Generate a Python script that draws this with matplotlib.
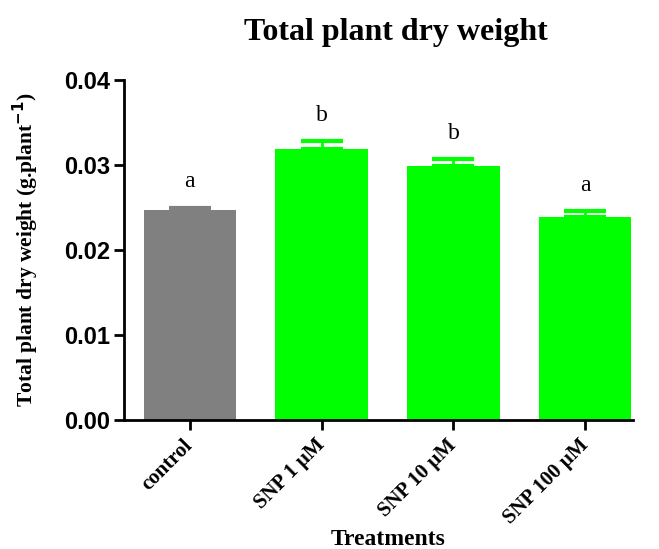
import matplotlib
matplotlib.use('Agg')
import matplotlib.pyplot as plt

# data
treatments = ['control', 'SNP 1 \u03bcM', 'SNP 10 \u03bcM', 'SNP 100 \u03bcM']
means = [0.0247, 0.0319, 0.0299, 0.0239]
errors = [0.0003, 0.0009, 0.0008, 0.0007]
letters = ['a', 'b', 'b', 'a']
colors = ['#808080', '#00ff00', '#00ff00', '#00ff00']

serif = 'Liberation Serif'
sans = 'Liberation Sans'

fig = plt.figure(figsize=(6.59, 5.49), dpi=100)
ax = fig.add_axes([0.188, 0.235, 0.772, 0.619])

x = range(len(treatments))
ax.bar(x, means, width=0.7, color=colors, zorder=2)
for i in x:
    ax.errorbar(i, means[i], yerr=[[0], [errors[i]]], fmt='none',
                ecolor=colors[i], elinewidth=2, capsize=15, capthick=3, zorder=1)
    ax.text(i, means[i] + errors[i] + 0.0018, letters[i], ha='center', va='bottom',
            family=serif, fontsize=17)

ax.set_xlim(-0.5, 3.36)
ax.set_ylim(0, 0.04)
ax.set_yticks([0.00, 0.01, 0.02, 0.03, 0.04])
ax.set_yticklabels(['0.00', '0.01', '0.02', '0.03', '0.04'], family=sans,
                   fontweight='bold', fontsize=17)
ax.set_xticks(list(x))
# centre-anchored + extra pad puts the label ends right under the ticks
ax.set_xticklabels(treatments, rotation=45, ha='right', va='center',
                   rotation_mode='anchor', family=serif, fontweight='bold', fontsize=15)

for s in ['top', 'right']:
    ax.spines[s].set_visible(False)
for s in ['left', 'bottom']:
    ax.spines[s].set_linewidth(2)
ax.tick_params(width=2, length=7, direction='out')
ax.tick_params(axis='y', pad=3)
ax.tick_params(axis='x', pad=9)

ax.set_ylabel('Total plant dry weight (g.plant$^{\\mathbf{-1}}$)', family=serif,
              fontweight='bold', fontsize=15.5)
ax.yaxis.set_label_coords(-0.162, 0.5)
ax.set_xlabel('Treatments', family=serif, fontweight='bold', fontsize=17)
ax.xaxis.set_label_coords(0.519, -0.322)
ax.set_title('Total plant dry weight', family=serif, fontweight='bold', fontsize=23,
             pad=29, x=0.534)

fig.savefig('out.png', dpi=100)
